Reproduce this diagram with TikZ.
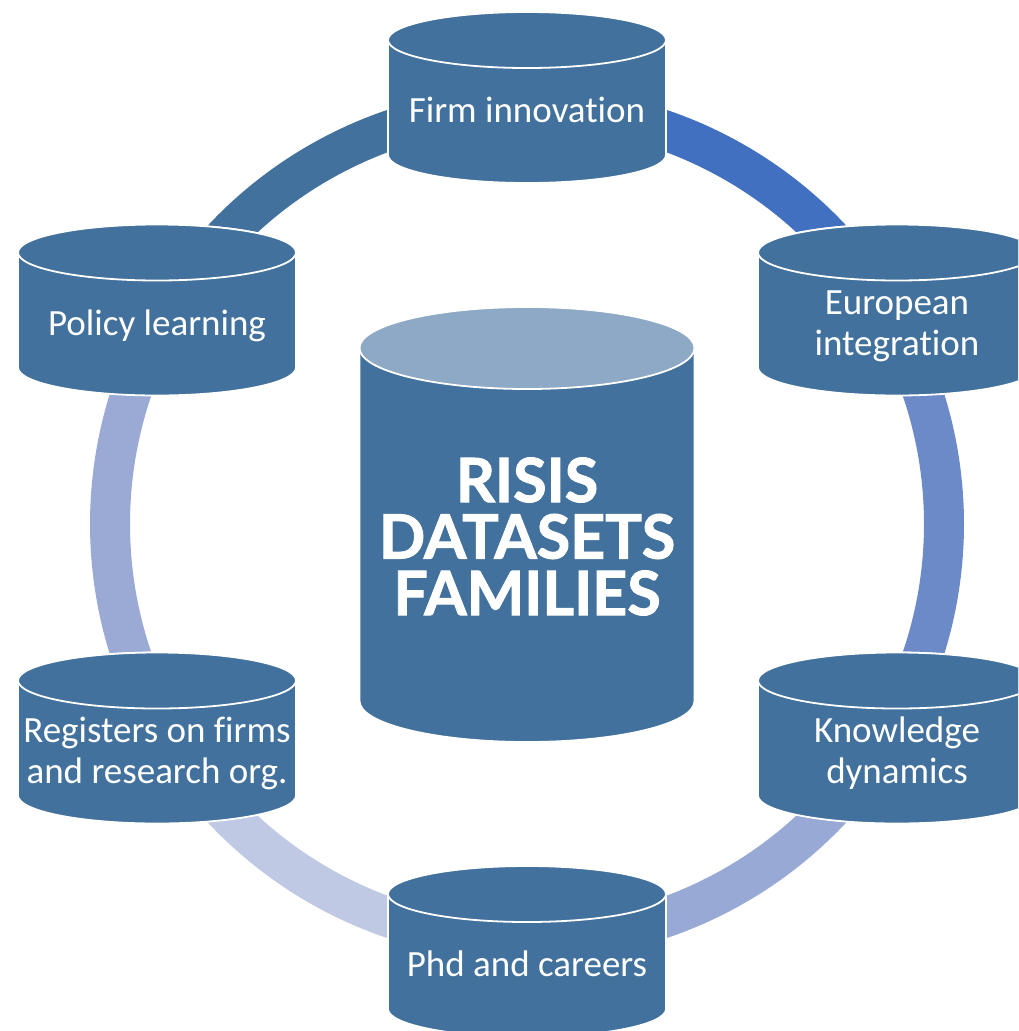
\documentclass[tikz,border=0pt]{standalone}
\usepackage{fontspec}
\setmainfont{Carlito}[Ligatures={NoCommon,NoRare}]
\newfontfamily\heavyfont{Lato}[BoldFeatures={FakeBold=1.6}]
\definecolor{cylblue}{HTML}{41719C}
\definecolor{toplight}{HTML}{8EA9C5}
\definecolor{ringA}{HTML}{41719C}
\definecolor{ringB}{HTML}{4270C0}
\definecolor{ringC}{HTML}{6C8AC8}
\definecolor{ringD}{HTML}{99A9D5}
\definecolor{ringE}{HTML}{BFC9E4}
\definecolor{ringF}{HTML}{9AAAD5}
\newcommand\ls{\rule[-9pt]{0pt}{35pt}}
\tikzset{
  ringseg/.style={line width=40pt},
  cylbody/.style={fill=cylblue, draw=white, line width=1.8pt},
  cyltext/.style={text=white, align=center, inner sep=0pt, font=\fontsize{37}{41}\selectfont},
  bigtext/.style={text=white, align=center, inner sep=0pt, font=\heavyfont\bfseries\fontsize{61}{56.5}\selectfont}
}
\newcommand\mycyl[4]{%
  \path[cylbody] (#2-139,-#3+57.5) -- (#2-139,-#3-57.5) arc (180:360:139 and 28)
     -- (#2+139,-#3+57.5) arc (0:180:139 and 28) -- cycle;
  \draw[cylbody] (#2,-#3+57.5) ellipse (139 and 28);
  \node[cyltext] (#1) at (#2,-#3-16.5) {#4};
}
\begin{document}
\begin{tikzpicture}[x=1pt,y=1pt]
\useasboundingbox (0,0) rectangle (1018,-1031);
\clip (0,0) rectangle (1018,-1031);
\fill[white] (0,0) rectangle (1018,-1031);
\coordinate (O) at (527,-524);
% ring segments
\draw[ringseg, ringA] ([shift={(150:417)}]O) arc (150:90:417);
\draw[ringseg, ringB] ([shift={(90:417)}]O) arc (90:30:417);
\draw[ringseg, ringC] ([shift={(30:417)}]O) arc (30:-30:417);
\draw[ringseg, ringD] ([shift={(-30:417)}]O) arc (-30:-90:417);
\draw[ringseg, ringE] ([shift={(-90:417)}]O) arc (-90:-150:417);
\draw[ringseg, ringF] ([shift={(-150:417)}]O) arc (-150:-210:417);
% outer cylinders
\mycyl{firm}{527}{97.5}{\ls Firm innovation}
\mycyl{euro}{897}{310}{\ls European\\\ls integration}
\mycyl{know}{897}{738}{\ls Knowledge\\\ls dynamics}
\mycyl{phd}{527}{951.5}{\ls Phd and careers}
\mycyl{regs}{157}{738}{\ls Registers on firms\\\ls and research org.}
\mycyl{policy}{157}{310}{\ls Policy learning}
% central cylinder
\path[cylbody] (359.5,-348) -- (359.5,-701) arc (180:360:167.5 and 41)
   -- (694.5,-348) arc (0:180:167.5 and 41) -- cycle;
\draw[fill=toplight, draw=white, line width=1.8pt] (527,-348) ellipse (167.5 and 41);
\node[bigtext] (risis) at (527,-536.5) {\rule{0pt}{44pt}RISIS\\DATASETS\\FAMILIES};
\end{tikzpicture}
\end{document}
